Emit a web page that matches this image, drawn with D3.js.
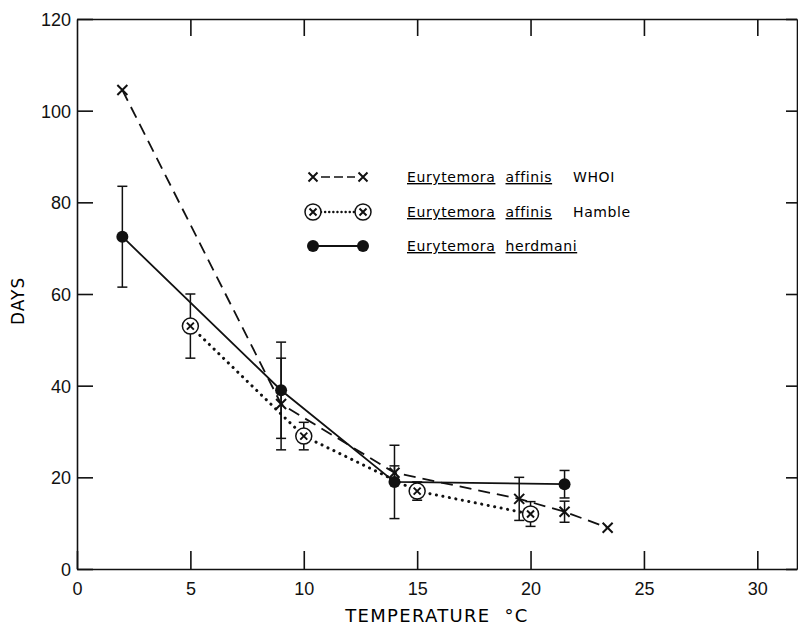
<!DOCTYPE html>
<html>
<head>
<meta charset="utf-8">
<script src="https://cdn.jsdelivr.net/npm/d3@7"></script>
<style>
  body { margin: 0; background: #fff; }
  svg { font-family: "DejaVu Sans", sans-serif; }
  .axis text { font-size: 18px; fill: #111; }
  .axis path, .axis line { stroke: #111; stroke-width: 1.6; }
</style>
</head>
<body>
<div id="chart-area"></div>
<script>
/* Development time vs temperature, three copepod populations */

// WHOI  (x markers, dashed)
var whoiTemp = [2, 9, 14, 19.5, 21.5, 23.4];
var whoiDays = [104.5, 36, 21, 15.3, 12.5, 9];
var whoiErr  = [null, 10, 1.5, 4.7, 2.3, null];

// Hamble  (circled x, dotted)
var hambleTemp = [5, 10, 15, 20];
var hambleDays = [53, 29, 17, 12];
var hambleErr  = [7, 3, 2, 2.7];

// herdmani  (filled dots, solid)
var herdTemp = [2, 9, 14, 21.5];
var herdDays = [72.5, 39, 19, 18.5];
var herdErr  = [11, 10.5, 8, 3];

var xTicks = [0, 5, 10, 15, 20, 25, 30];
var yTicks = [0, 20, 40, 60, 80, 100, 120];

var legendNames = [
  ["Eurytemora", "affinis", "WHOI"],
  ["Eurytemora", "affinis", "Hamble"],
  ["Eurytemora", "herdmani", ""]
];

var W = 798, H = 628;

var svg = d3.select("#chart-area").append("svg")
  .attr("width", W)
  .attr("height", H);

/* Scales */
var x = d3.scaleLinear().domain([0, 31.75]).range([77, 797]);
var y = d3.scaleLinear().domain([0, 120]).range([569, 19]);

/* Axes */
svg.append("g")
  .attr("class", "axis")
  .attr("transform", "translate(" + x(0) + ",0)")
  .call(d3.axisLeft(y).tickValues(yTicks).tickSizeInner(-16).tickSizeOuter(0).tickPadding(6))
  .selectAll("text").attr("dy", "0.36em");

svg.append("g")
  .attr("class", "axis")
  .attr("transform", "translate(0," + y(0) + ")")
  .call(d3.axisBottom(x).tickValues(xTicks).tickSizeInner(-18).tickSizeOuter(0).tickPadding(13));

svg.append("g")
  .attr("class", "axis")
  .attr("transform", "translate(0," + y(120) + ")")
  .call(d3.axisTop(x).tickValues(xTicks.slice(1)).tickSizeInner(-17).tickSizeOuter(0).tickFormat(""));

svg.append("g")
  .attr("class", "axis")
  .attr("transform", "translate(" + x(31.75) + ",0)")
  .call(d3.axisRight(y).tickValues(yTicks).tickSizeInner(-11).tickSizeOuter(0).tickFormat(""));

// axis labels
svg.append("text")
  .attr("x", 437).attr("y", 622)
  .attr("text-anchor", "middle")
  .attr("font-size", "18px")
  .attr("letter-spacing", "1.3px")
  .text("TEMPERATURE\u00a0\u00a0°C");

svg.append("text")
  .attr("transform", "translate(24," + y(58.5) + ") rotate(-90)")
  .attr("text-anchor", "middle")
  .attr("font-size", "17px")
  .attr("letter-spacing", "1px")
  .text("DAYS");

/* Helpers */
function zip(t, d, e) {
  return t.map(function(v, i) { return {t: v, d: d[i], e: e[i]}; });
}
var line = d3.line().x(function(p) { return x(p.t); }).y(function(p) { return y(p.d); });

var whoi = zip(whoiTemp, whoiDays, whoiErr);
var hamble = zip(hambleTemp, hambleDays, hambleErr);
var herd = zip(herdTemp, herdDays, herdErr);

var plot = svg.append("g");

// lines
plot.append("path").datum(whoi).attr("d", line)
  .attr("fill", "none").attr("stroke", "#111").attr("stroke-width", 1.8)
  .attr("stroke-dasharray", "12,7");
plot.append("path").datum(hamble).attr("d", line)
  .attr("fill", "none").attr("stroke", "#111").attr("stroke-width", 3)
  .attr("stroke-linecap", "round").attr("stroke-dasharray", "0.1,6.5");
plot.append("path").datum(herd).attr("d", line)
  .attr("fill", "none").attr("stroke", "#111").attr("stroke-width", 1.8);

// error bars
function errorBars(data) {
  var eb = plot.append("g").selectAll("g")
    .data(data.filter(function(p) { return p.e != null; }))
    .enter().append("g")
    .attr("stroke", "#111").attr("stroke-width", 1.5);
  eb.append("line")
    .attr("x1", function(p) { return x(p.t); }).attr("x2", function(p) { return x(p.t); })
    .attr("y1", function(p) { return y(p.d - p.e); }).attr("y2", function(p) { return y(p.d + p.e); });
  [-1, 1].forEach(function(s) {
    eb.append("line")
      .attr("x1", function(p) { return x(p.t) - 5; }).attr("x2", function(p) { return x(p.t) + 5; })
      .attr("y1", function(p) { return y(p.d + s * p.e); }).attr("y2", function(p) { return y(p.d + s * p.e); });
  });
}
errorBars(herd);
errorBars(whoi);
errorBars(hamble);

// markers
function cross(g, cx, cy, r) {
  g.append("path")
    .attr("d", "M" + (cx - r) + "," + (cy - r) + "L" + (cx + r) + "," + (cy + r) +
               "M" + (cx + r) + "," + (cy - r) + "L" + (cx - r) + "," + (cy + r))
    .attr("stroke", "#111").attr("stroke-width", 2).attr("fill", "none");
}
function circled(g, cx, cy) {
  g.append("circle").attr("cx", cx).attr("cy", cy).attr("r", 8)
    .attr("fill", "#fff").attr("stroke", "#111").attr("stroke-width", 1.5);
  cross(g, cx, cy, 3.5);
}
function dot(g, cx, cy) {
  g.append("circle").attr("cx", cx).attr("cy", cy).attr("r", 6).attr("fill", "#111");
}

var marks = plot.append("g");
whoi.forEach(function(p) { cross(marks, x(p.t), y(p.d), 5); });
hamble.forEach(function(p) { circled(marks, x(p.t), y(p.d)); });
herd.forEach(function(p) { dot(marks, x(p.t), y(p.d)); });

/* Legend */
var legend = svg.append("g");
var rowY = [177, 212, 246];
var lx1 = 313, lx2 = 363;

legend.append("line").attr("x1", lx1 + 8).attr("x2", lx2 - 8).attr("y1", rowY[0]).attr("y2", rowY[0])
  .attr("stroke", "#111").attr("stroke-width", 1.5).attr("stroke-dasharray", "9,4");
cross(legend, lx1, rowY[0], 4.5);
cross(legend, lx2, rowY[0], 4.5);

legend.append("line").attr("x1", lx1 + 8).attr("x2", lx2 - 8).attr("y1", rowY[1]).attr("y2", rowY[1])
  .attr("stroke", "#111").attr("stroke-width", 2.4).attr("stroke-linecap", "round").attr("stroke-dasharray", "0.1,4");
circled(legend, lx1, rowY[1]);
circled(legend, lx2, rowY[1]);

legend.append("line").attr("x1", lx1).attr("x2", lx2).attr("y1", rowY[2]).attr("y2", rowY[2])
  .attr("stroke", "#111").attr("stroke-width", 1.8);
dot(legend, lx1, rowY[2]);
dot(legend, lx2, rowY[2]);

legendNames.forEach(function(n, i) {
  var t = legend.append("text")
    .attr("x", 407).attr("y", rowY[i] + 5)
    .attr("font-size", "14px")
    .attr("letter-spacing", "0.6px");
  t.append("tspan").style("text-decoration", "underline").text(n[0]);
  t.append("tspan").text("\u00a0\u00a0");
  t.append("tspan").style("text-decoration", "underline").text(n[1]);
  if (n[2]) t.append("tspan").attr("x", 573).text(n[2]);
});
</script>
</body>
</html>
